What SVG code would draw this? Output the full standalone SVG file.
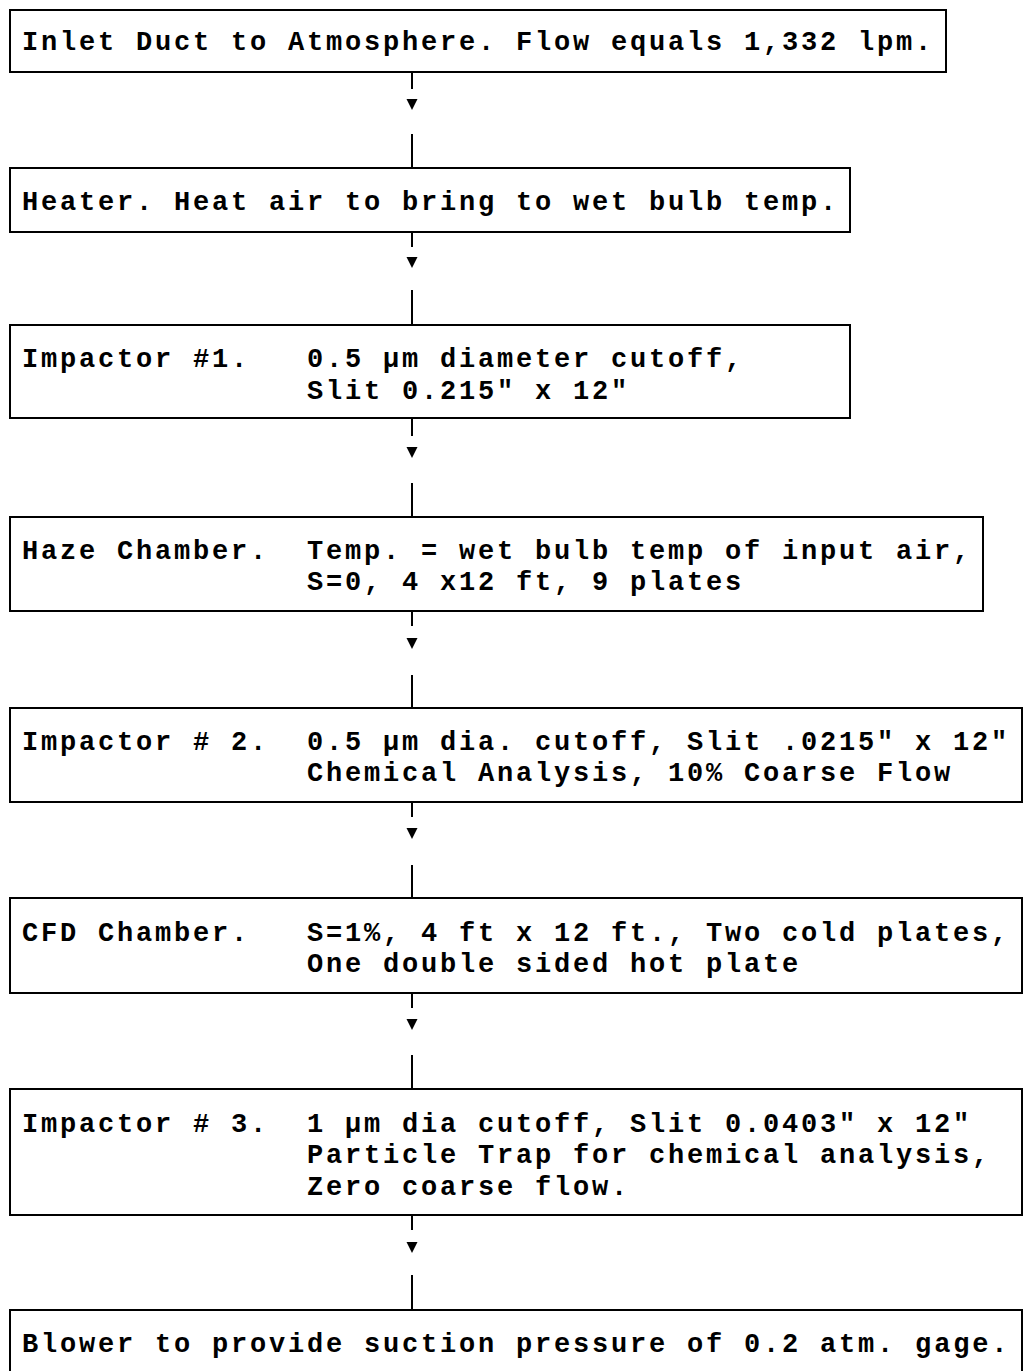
<svg xmlns="http://www.w3.org/2000/svg" width="1025" height="1371" viewBox="0 0 1025 1371">
<style>
.box{fill:#fff;stroke:#000;stroke-width:2}
text{font-family:"Liberation Mono","Courier New",monospace;font-weight:bold;font-size:27px;letter-spacing:2.8px;fill:#000}
.ln{stroke:#000;stroke-width:2;fill:none}
</style>
<defs>
<path id="tri" d="M-5.5,0 L5.5,0 L0,11 Z" fill="#000"/>
</defs>
<rect width="1025" height="1371" fill="#fff"/>
<g id="connectors">
<line class="ln" x1="412" y1="72" x2="412" y2="89"/><use href="#tri" x="412" y="99"/><line class="ln" x1="412" y1="134" x2="412" y2="168"/>
<line class="ln" x1="412" y1="232" x2="412" y2="247"/><use href="#tri" x="412" y="257"/><line class="ln" x1="412" y1="290" x2="412" y2="325"/>
<line class="ln" x1="412" y1="418" x2="412" y2="436"/><use href="#tri" x="412" y="447"/><line class="ln" x1="412" y1="483" x2="412" y2="517"/>
<line class="ln" x1="412" y1="611" x2="412" y2="626"/><use href="#tri" x="412" y="638"/><line class="ln" x1="412" y1="675" x2="412" y2="708"/>
<line class="ln" x1="412" y1="802" x2="412" y2="817"/><use href="#tri" x="412" y="828"/><line class="ln" x1="412" y1="865" x2="412" y2="898"/>
<line class="ln" x1="412" y1="993" x2="412" y2="1008"/><use href="#tri" x="412" y="1019"/><line class="ln" x1="412" y1="1055" x2="412" y2="1089"/>
<line class="ln" x1="412" y1="1215" x2="412" y2="1230"/><use href="#tri" x="412" y="1242"/><line class="ln" x1="412" y1="1275" x2="412" y2="1310"/>
</g>
<g id="n1"><rect class="box" x="10" y="10" width="936" height="62"/><text x="22" y="50">Inlet Duct to Atmosphere. Flow equals 1,332 lpm.</text></g>
<g id="n2"><rect class="box" x="10" y="168" width="840" height="64"/><text x="22" y="210">Heater. Heat air to bring to wet bulb temp.</text></g>
<g id="n3"><rect class="box" x="10" y="325" width="840" height="93"/><text x="22" y="367">Impactor #1.</text><text x="307" y="367">0.5 µm diameter cutoff,</text><text x="307" y="399">Slit 0.215" x 12"</text></g>
<g id="n4"><rect class="box" x="10" y="517" width="973" height="94"/><text x="22" y="559">Haze Chamber.</text><text x="307" y="559">Temp. = wet bulb temp of input air,</text><text x="307" y="590">S=0, 4 x12 ft, 9 plates</text></g>
<g id="n5"><rect class="box" x="10" y="708" width="1012" height="94"/><text x="22" y="750">Impactor # 2.</text><text x="307" y="750">0.5 µm dia. cutoff, Slit .0215" x 12"</text><text x="307" y="781">Chemical Analysis, 10% Coarse Flow</text></g>
<g id="n6"><rect class="box" x="10" y="898" width="1012" height="95"/><text x="22" y="941">CFD Chamber.</text><text x="307" y="941">S=1%, 4 ft x 12 ft., Two cold plates,</text><text x="307" y="972">One double sided hot plate</text></g>
<g id="n7"><rect class="box" x="10" y="1089" width="1012" height="126"/><text x="22" y="1132">Impactor # 3.</text><text x="307" y="1132">1 µm dia cutoff, Slit 0.0403" x 12"</text><text x="307" y="1163">Particle Trap for chemical analysis,</text><text x="307" y="1195">Zero coarse flow.</text></g>
<g id="n8"><rect class="box" x="10" y="1310" width="1012" height="70"/><text x="22" y="1352">Blower to provide suction pressure of 0.2 atm. gage.</text></g>
</svg>
